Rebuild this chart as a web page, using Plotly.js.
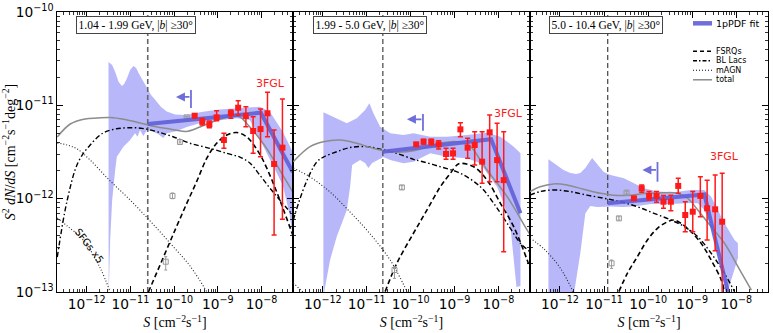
<!DOCTYPE html>
<html><head><meta charset="utf-8">
<script src="https://cdn.plot.ly/plotly-3.0.1.min.js"></script>
<style>body{margin:0;padding:0;background:#fff}</style>
</head><body><div id="chart" style="width:773px;height:333px"></div>
<script>
// ---------------- Panel 1 : 1.04 - 1.99 GeV ----------------
const p1_bandUpS = [3.15e-12,3.82e-12,4.48e-12,5.38e-12,6.37e-12,7.18e-12,8.41e-12,9.84e-12,1.17e-11,1.35e-11,1.58e-11,1.95e-11,2.37e-11,2.97e-11,4.01e-11,5.02e-11,6.78e-11,1.05e-10,1.87e-10,4.57e-10,1.12e-9,2.69e-9,5.41e-9,9.14e-9,1.55e-8,3.06e-8,5.19e-8];
const p1_bandUpY = [2.91e-11,2.70e-11,2.28e-11,1.78e-11,1.61e-11,1.69e-11,1.96e-11,2.39e-11,2.64e-11,2.51e-11,2.17e-11,1.82e-11,1.53e-11,1.29e-11,1.09e-11,9.60e-12,8.59e-12,7.98e-12,7.88e-12,8.55e-12,9.02e-12,9.29e-12,9.60e-12,9.66e-12,8.55e-12,5.21e-12,3.16e-12];
const p1_bandLoS = [3.18e-12,3.44e-12,3.82e-12,4.48e-12,4.89e-12,6.92e-12,9.84e-12,1.28e-11,1.45e-11,1.66e-11,1.98e-11,2.37e-11,3.35e-11,4.29e-11,5.66e-11,6.78e-11,1.15e-10,1.94e-10,4.57e-10,1.12e-9,2.69e-9,5.41e-9,7.69e-9,1.07e-8,1.81e-8,3.06e-8,4.43e-8,5.19e-8];
const p1_bandLoY = [9e-14,3.61e-13,9.68e-13,2.03e-12,2.82e-12,3.61e-12,4.25e-12,5.01e-12,4.61e-12,5.44e-12,4.69e-12,5.44e-12,5.21e-12,4.93e-12,4.47e-12,5.01e-12,5.31e-12,5.86e-12,6.58e-12,6.88e-12,7.26e-12,6.97e-12,5.21e-12,3.76e-12,2.30e-12,1.40e-12,6.68e-13,3.88e-13];
const p1_totalS = [2.12e-13,4.2e-13,9.2e-13,1.74e-12,3.44e-12,7.57e-12,1.66e-11,3.66e-11,8.05e-11,1.87e-10,3.90e-10,9.06e-10,2.21e-9,3.20e-9,5.41e-9,9.14e-9,1.32e-8,2.23e-8,3.79e-8,5.19e-8];
const p1_totalY = [4.58e-12,6.31e-12,7.14e-12,7.31e-12,7.41e-12,7.05e-12,6.47e-12,5.93e-12,5.57e-12,5.25e-12,5.86e-12,6.88e-12,7.69e-12,7.50e-12,5.86e-12,4.36e-12,3.44e-12,2.30e-12,1.51e-12,1.18e-12];
const p1_bllacS = [2.12e-13,3.59e-13,6.40e-13,1.20e-12,2.38e-12,4.48e-12,8.85e-12,1.85e-11,4.07e-11,9.44e-11,2.31e-10,6.61e-10,1.61e-9,3.20e-9,5.41e-9,9.14e-9,1.55e-8,2.62e-8,5.19e-8];
const p1_bllacY = [2.37e-13,9.68e-13,2.47e-12,3.76e-12,5.06e-12,5.57e-12,5.75e-12,5.67e-12,5.21e-12,4.61e-12,3.92e-12,3.46e-12,3.06e-12,2.79e-12,2.41e-12,1.79e-12,1.30e-12,9.68e-13,6.68e-13];
const p1_fsrqS = [2.58e-11,5.58e-11,1.10e-10,1.97e-10,3.33e-10,5.64e-10,9.53e-10,1.61e-9,2.73e-9,4.61e-9,6.67e-9,1.02e-8,1.55e-8,2.23e-8,2.90e-8,5.19e-8];
const p1_fsrqY = [1.0e-13,2.31e-13,4.85e-13,9.0e-13,1.55e-12,2.73e-12,3.95e-12,4.81e-12,5.12e-12,4.58e-12,3.76e-12,2.73e-12,1.79e-12,1.18e-12,8.55e-13,4.08e-13];
const p1_magnS = [2.12e-13,3.59e-13,6.07e-13,1.20e-12,3.44e-12,9.84e-12,2.82e-11,8.05e-11,2.31e-10,5.64e-10];
const p1_magnY = [3.95e-12,3.76e-12,3.40e-12,2.59e-12,1.55e-12,9.68e-13,5.77e-13,3.35e-13,1.90e-13,1.0e-13];
const p1_sfgS = [2.12e-13,3.59e-13,8.32e-13,2.03e-12,3.44e-12];
const p1_sfgY = [6.21e-13,5.09e-13,3.61e-13,1.81e-13,1.0e-13];
const p1_fitS = [2.49e-11,9.64e-9,5.19e-8];
const p1_fitY = [6.31e-12,8.34e-12,1.93e-12];
const p1_fglS = [2.95e-10,4.4e-10,6.4e-10,9.4e-10,1.38e-9,1.99e-9,2.92e-9,4.39e-9,6.43e-9,9.5e-9,1.37e-8,1.94e-8,3.01e-8];
const p1_fglY = [7.74e-12,6.68e-12,6.26e-12,7.44e-12,4.25e-12,8.22e-12,9.43e-12,7.69e-12,5.31e-12,5.57e-12,8.22e-12,2.35e-12,3.52e-12];
const p1_fglHi = [8.1e-12,7.26e-12,6.79e-12,8.76e-12,5.01e-12,8.91e-12,1.12e-11,9.66e-12,7.55e-12,9.14e-12,1.38e-11,5.44e-12,1.17e-11];
const p1_fglLo = [7.3e-12,6.15e-12,5.75e-12,6.85e-12,3.46e-12,7.26e-12,7.88e-12,5.90e-12,3.06e-12,2.82e-12,4.61e-12,4.08e-13,6.01e-13];
const p1_sqS = [1.94e-10,1.36e-10,9.18e-11,6.43e-11];
const p1_sqY = [7.44e-12,4.05e-12,1.07e-12,2.11e-13];
const p1_sqHi = [7.6e-12,4.15e-12,1.15e-12,2.39e-13];
const p1_sqLo = [7.3e-12,3.95e-12,1.0e-12,1.72e-13];
const p1_arrow = {tip:1.10e-10, bar:2.43e-10, y:1.23e-11, barHi:1.46e-11, barLo:9.36e-12};
const p1_cut = 2.49e-11;

// ---------------- Panel 2 : 1.99 - 5.0 GeV ----------------
const p2_bandUpS = [1.03e-12,1.74e-12,3.52e-12,5.94e-12,9.18e-12,1.15e-11,1.42e-11,2.02e-11,3.42e-11,6.89e-11,1.16e-10,2.80e-10,6.75e-10,1.93e-9,5.52e-9,1.11e-8,2.23e-8,3.18e-8,3.18e-8];
const p2_bandUpY = [8.41e-12,7.55e-12,6.41e-12,7.26e-12,8.91e-12,1.05e-11,8.22e-12,5.90e-12,5.01e-12,4.81e-12,5.01e-12,4.61e-12,4.61e-12,4.81e-12,5.09e-12,4.61e-12,3.61e-12,3.06e-12,1.16e-13];
const p2_bandLoS = [1.03e-12,1.46e-12,2.07e-12,3.52e-12,4.18e-12,4.65e-12,7.06e-12,9.18e-12,1.09e-11,1.33e-11,2.40e-11,3.42e-11,6.89e-11,1.16e-10,2.80e-10,6.75e-10,1.93e-9,3.88e-9,5.52e-9,9.33e-9,1.32e-8,1.88e-8,2.23e-8,2.58e-8];
const p2_bandLoY = [9e-14,2.20e-13,3.91e-13,7.57e-13,1.34e-12,2.30e-12,2.59e-12,2.41e-12,2.13e-12,2.41e-12,2.79e-12,2.59e-12,2.39e-12,2.49e-12,3.06e-12,2.82e-12,2.71e-12,2.39e-12,1.87e-12,1.34e-12,8.92e-13,5.01e-13,2.20e-13,1.13e-13];
const p2_totalS = [2.12e-13,5.10e-13,1.03e-12,2.47e-12,5.94e-12,1.42e-11,3.42e-11,8.24e-11,1.97e-10,4.74e-10,1.14e-9,2.30e-9,3.88e-9,5.52e-9,1.58e-8,4.52e-8,5.38e-8];
const p2_totalY = [2.49e-12,3.61e-12,4.07e-12,4.25e-12,3.92e-12,3.46e-12,3.18e-12,3.18e-12,3.46e-12,3.92e-12,4.07e-12,3.61e-12,2.59e-12,2.03e-12,1.05e-12,4.61e-13,4.08e-13];
const p2_bllacS = [2.12e-13,3.93e-13,7.26e-13,1.03e-12,2.07e-12,4.18e-12,1.00e-11,2.02e-11,4.86e-11,1.16e-10,1.66e-10,4.74e-10,1.36e-9,3.88e-9,7.82e-9,1.58e-8,3.18e-8,5.38e-8];
const p2_bllacY = [5.91e-13,1.40e-12,2.47e-12,2.79e-12,3.18e-12,3.53e-12,3.61e-12,3.40e-12,3.06e-12,2.64e-12,2.53e-12,2.20e-12,1.87e-12,1.34e-12,8.92e-13,5.44e-13,3.33e-13,2.68e-13];
const p2_fsrqS = [2.63e-11,4.86e-11,1.16e-10,2.36e-10,4.74e-10,8.02e-10,1.14e-9,1.36e-9,2.73e-9,5.52e-9,1.11e-8,2.23e-8,4.52e-8,5.38e-8];
const p2_fsrqY = [1.01e-13,2.03e-13,4.26e-13,7.57e-13,1.34e-12,1.87e-12,2.30e-12,2.39e-12,2.20e-12,1.58e-12,8.92e-13,5.01e-13,2.20e-13,1.72e-13];
const p2_magnS = [2.12e-13,5.10e-13,1.46e-12,4.18e-12,1.20e-11,3.42e-11,8.36e-11];
const p2_magnY = [2.13e-12,1.71e-12,1.18e-12,7.19e-13,4.18e-13,2.20e-13,1.0e-13];
const p2_sfgS = [2.12e-13,3.53e-13];
const p2_sfgY = [1.25e-13,1.0e-13];
const p2_fitS = [2.33e-11,6.81e-9,3.18e-8];
const p2_fitY = [3.18e-12,4.33e-12,6.97e-13];
const p2_fglS = [1.34e-10,1.97e-10,2.95e-10,4.34e-10,6.40e-10,9.25e-10,1.36e-9,1.99e-9,2.88e-9,4.25e-9,6.32e-9,9.33e-9,1.32e-8];
const p2_fglY = [3.82e-12,4.07e-12,4.07e-12,3.82e-12,3.01e-12,3.06e-12,5.53e-12,3.52e-12,3.76e-12,2.49e-12,5.14e-12,2.59e-12,1.58e-12];
const p2_fglHi = [3.97e-12,4.33e-12,4.33e-12,4.18e-12,3.46e-12,3.46e-12,6.52e-12,4.43e-12,5.21e-12,5.21e-12,7.88e-12,6.41e-12,5.21e-12];
const p2_fglLo = [3.67e-12,3.85e-12,3.76e-12,3.40e-12,2.64e-12,2.64e-12,4.61e-12,2.71e-12,2.30e-12,1.46e-12,1.52e-12,1.52e-12,2.70e-13];
const p2_sqS = [6.32e-11,4.29e-11];
const p2_sqY = [1.32e-12,1.72e-13];
const p2_sqHi = [1.38e-12,1.87e-13];
const p2_sqLo = [1.26e-12,1.40e-13];
const p2_arrow = {tip:8.24e-11, bar:1.91e-10, y:7.08e-12, barHi:8.07e-12, barLo:5.35e-12};
const p2_cut = 2.33e-11;

// ---------------- Panel 3 : 5.0 - 10.4 GeV ----------------
const p3_bandUpS = [5.46e-13,8.19e-13,1.20e-12,1.71e-12,2.34e-12,2.89e-12,3.76e-12,5.35e-12,6.70e-12,9.84e-12,1.40e-11,2.82e-11,4.76e-11,8.05e-11,1.63e-10,3.90e-10,9.40e-10,1.89e-9,2.69e-9,3.82e-9,5.41e-9,9.14e-9,1.09e-8,1.09e-8];
const p3_bandUpY = [2.64e-12,2.30e-12,2.03e-12,1.88e-12,1.84e-12,1.88e-12,2.13e-12,2.73e-12,2.41e-12,1.93e-12,1.79e-12,1.65e-12,1.46e-12,1.29e-12,1.19e-12,1.17e-12,1.24e-12,1.24e-12,1.05e-12,7.57e-13,5.44e-13,3.61e-13,3.33e-13,2.31e-13];
const p3_bandLoS = [5.46e-13,2.03e-12,2.89e-12,3.76e-12,4.89e-12,6.95e-12,1.40e-11,2.82e-11,5.70e-11,1.15e-10,3.28e-10,9.40e-10,1.34e-9,1.89e-9,2.69e-9,3.82e-9,4.97e-9,5.92e-9];
const p3_bandLoY = [9e-14,9e-14,2.60e-13,6.97e-13,8.34e-13,8.14e-13,8.24e-13,8.14e-13,8.34e-13,8.77e-13,8.77e-13,9.00e-13,8.92e-13,7.57e-13,5.01e-13,3.05e-13,1.72e-13,9e-14];
const p3_totalS = [2.09e-13,3.53e-13,7.11e-13,1.44e-12,3.44e-12,8.28e-12,1.99e-11,4.01e-11,9.64e-11,2.31e-10,4.67e-10,7.89e-10,1.34e-9,2.69e-9,5.41e-9,1.09e-8,2.20e-8];
const p3_totalY = [1.19e-12,1.34e-12,1.44e-12,1.40e-12,1.26e-12,1.14e-12,1.08e-12,1.09e-12,1.14e-12,1.16e-12,1.14e-12,1.01e-12,7.57e-13,5.01e-13,3.33e-13,1.87e-13,1.05e-13];
const p3_bllacS = [2.09e-13,3.53e-13,7.11e-13,1.71e-12,4.11e-12,9.84e-12,2.37e-11,5.70e-11,1.36e-10,3.28e-10,6.61e-10,1.34e-9,2.69e-9,5.41e-9,9.14e-9];
const p3_bllacY = [1.09e-12,1.19e-12,1.24e-12,1.19e-12,1.09e-12,1.01e-12,9.27e-13,8.20e-13,6.97e-13,5.91e-13,5.01e-13,3.91e-13,2.60e-13,1.58e-13,1.01e-13];
const p3_fsrqS = [2.17e-11,3.37e-11,5.70e-11,9.64e-11,1.63e-10,2.76e-10,3.90e-10,5.55e-10,9.40e-10,1.59e-9,2.69e-9,4.55e-9,5.41e-9];
const p3_fsrqY = [1.01e-13,1.58e-13,2.39e-13,3.61e-13,4.81e-13,5.66e-13,5.91e-13,5.44e-13,4.43e-13,3.33e-13,2.20e-13,1.35e-13,1.01e-13];
const p3_magnS = [2.09e-13,4.59e-13,1.01e-12,2.0e-12];
const p3_magnY = [3.79e-13,2.82e-13,1.81e-13,1.0e-13];
const p3_fitS = [1.21e-11,1.89e-9,1.0e-8];
const p3_fitY = [8.92e-13,1.11e-12,4.3e-14];
const p3_fglS = [4.76e-11,7.14e-11,1.05e-10,1.55e-10,2.23e-10,3.28e-10,4.82e-10,6.95e-10,1.03e-9,1.53e-9,2.18e-9,3.32e-9,4.79e-9];
const p3_fglY = [1.01e-12,1.29e-12,1.07e-12,1.07e-12,9.27e-13,9.27e-13,1.37e-12,6.68e-13,7.25e-13,1.07e-12,7.89e-13,7.69e-13,5.66e-13];
const p3_fglHi = [1.05e-12,1.40e-12,1.19e-12,1.19e-12,1.08e-12,1.09e-12,1.65e-12,9.27e-13,1.19e-12,1.72e-12,1.58e-12,1.79e-12,1.87e-12];
const p3_fglLo = [9.7e-13,1.17e-12,9.68e-13,9.14e-13,7.89e-13,7.43e-13,1.14e-12,4.43e-13,4.43e-13,6.41e-13,3.61e-13,2.77e-13,5e-14];
const p3_sqS = [3.24e-11,2.17e-11,1.48e-11];
const p3_sqY = [1.16e-12,6.15e-13,2.03e-13];
const p3_sqHi = [1.2e-12,6.4e-13,2.20e-13];
const p3_sqLo = [1.12e-12,5.9e-13,1.79e-13];
const p3_arrow = {tip:7.41e-11, bar:1.63e-10, y:2.03e-12, barHi:2.47e-12, barLo:1.52e-12};
const p3_cut = 1.21e-11;

const panelLabels = ['1.04 - 1.99 GeV, |<i>b</i>| ≥30°', '1.99 - 5.0 GeV, |<i>b</i>| ≥30°', '5.0 - 10.4 GeV, |<i>b</i>| ≥30°'];
const legendLabels = ['1pPDF fit','FSRQs','BL Lacs','mAGN','total'];

// ---------------- styles ----------------
const BAND = 'rgba(112,112,245,0.50)';
const FIT = 'rgba(95,95,215,0.9)';
const RED = '#ff1a1a';
const GREY = '#8c8c8c';

const traces = [];
const annotations = [];
function addPanel(ax, d) {
  const xa = ax === 1 ? 'x' : 'x' + ax, ya = ax === 1 ? 'y' : 'y' + ax;
  const base = {xaxis: xa, yaxis: ya, hoverinfo: 'skip', showlegend: false};
  traces.push(Object.assign({}, base, {x: d.upS.concat(d.loS.slice().reverse()), y: d.upY.concat(d.loY.slice().reverse()),
    mode: 'lines', fill: 'toself', fillcolor: BAND, line: {width: 0}}));
  traces.push(Object.assign({}, base, {x: [d.cut, d.cut], y: [1e-13, 1e-10], mode: 'lines', line: {color: ax === 1 ? '#666' : '#444', width: ax === 1 ? 1.6 : 1.2, dash: '5px,3px'}}));
  if (d.sfgS) traces.push(Object.assign({}, base, {x: d.sfgS, y: d.sfgY, mode: 'lines', line: {color: '#222', width: 1.1, dash: '1px,2px', shape: 'spline'}}));
  traces.push(Object.assign({}, base, {x: d.magnS, y: d.magnY, mode: 'lines', line: {color: '#222', width: 1.1, dash: '1px,2px', shape: 'spline'}}));
  traces.push(Object.assign({}, base, {x: d.bllacS, y: d.bllacY, mode: 'lines', line: {color: 'black', width: 1.4, dash: '5px,2.5px,1.5px,2.5px', shape: 'spline'}}));
  traces.push(Object.assign({}, base, {x: d.fsrqS, y: d.fsrqY, mode: 'lines', line: {color: 'black', width: 1.6, dash: '5px,3px', shape: 'spline'}}));
  traces.push(Object.assign({}, base, {x: d.totalS, y: d.totalY, mode: 'lines', line: {color: GREY, width: 1.5, shape: 'spline'}}));
  traces.push(Object.assign({}, base, {x: d.sqS, y: d.sqY, mode: 'markers',
    marker: {symbol: 'square-open', size: 5, color: '#999', line: {width: 1}},
    error_y: {type: 'data', symmetric: false, array: d.sqHi.map((h, i) => h - d.sqY[i]), arrayminus: d.sqLo.map((l, i) => d.sqY[i] - l), color: '#999', thickness: 1, width: 1.5}}));
  traces.push(Object.assign({}, base, {x: d.fitS, y: d.fitY, mode: 'lines', line: {color: FIT, width: 4}}));
  traces.push(Object.assign({}, base, {x: d.fglS, y: d.fglY, mode: 'markers',
    marker: {symbol: 'square', size: 6, color: RED},
    error_y: {type: 'data', symmetric: false, array: d.fglHi.map((h, i) => h - d.fglY[i]), arrayminus: d.fglLo.map((l, i) => d.fglY[i] - l), color: RED, thickness: 1.5, width: 2.5}}));
  traces.push(Object.assign({}, base, {x: [d.arrow.bar, d.arrow.bar], y: [d.arrow.barLo, d.arrow.barHi], mode: 'lines', line: {color: FIT, width: 1.8}}));
  annotations.push({xref: xa, yref: ya, axref: xa, ayref: ya, x: Math.log10(d.arrow.tip), y: Math.log10(d.arrow.y),
    ax: Math.log10(d.arrow.bar), ay: Math.log10(d.arrow.y), showarrow: true, arrowhead: 2, arrowsize: 1, arrowwidth: 1.8, arrowcolor: FIT, text: ''});
}
addPanel(1, {upS: p1_bandUpS, upY: p1_bandUpY, loS: p1_bandLoS, loY: p1_bandLoY, cut: p1_cut, sfgS: p1_sfgS, sfgY: p1_sfgY,
  magnS: p1_magnS, magnY: p1_magnY, bllacS: p1_bllacS, bllacY: p1_bllacY, fsrqS: p1_fsrqS, fsrqY: p1_fsrqY, totalS: p1_totalS, totalY: p1_totalY,
  sqS: p1_sqS, sqY: p1_sqY, sqHi: p1_sqHi, sqLo: p1_sqLo, fitS: p1_fitS, fitY: p1_fitY, fglS: p1_fglS, fglY: p1_fglY, fglHi: p1_fglHi, fglLo: p1_fglLo, arrow: p1_arrow});
addPanel(2, {upS: p2_bandUpS, upY: p2_bandUpY, loS: p2_bandLoS, loY: p2_bandLoY, cut: p2_cut, sfgS: p2_sfgS, sfgY: p2_sfgY,
  magnS: p2_magnS, magnY: p2_magnY, bllacS: p2_bllacS, bllacY: p2_bllacY, fsrqS: p2_fsrqS, fsrqY: p2_fsrqY, totalS: p2_totalS, totalY: p2_totalY,
  sqS: p2_sqS, sqY: p2_sqY, sqHi: p2_sqHi, sqLo: p2_sqLo, fitS: p2_fitS, fitY: p2_fitY, fglS: p2_fglS, fglY: p2_fglY, fglHi: p2_fglHi, fglLo: p2_fglLo, arrow: p2_arrow});
addPanel(3, {upS: p3_bandUpS, upY: p3_bandUpY, loS: p3_bandLoS, loY: p3_bandLoY, cut: p3_cut,
  magnS: p3_magnS, magnY: p3_magnY, bllacS: p3_bllacS, bllacY: p3_bllacY, fsrqS: p3_fsrqS, fsrqY: p3_fsrqY, totalS: p3_totalS, totalY: p3_totalY,
  sqS: p3_sqS, sqY: p3_sqY, sqHi: p3_sqHi, sqLo: p3_sqLo, fitS: p3_fitS, fitY: p3_fitY, fglS: p3_fglS, fglY: p3_fglY, fglHi: p3_fglHi, fglLo: p3_fglLo, arrow: p3_arrow});

// text annotations
const SERIF = 'Liberation Serif, DejaVu Serif, serif';
const SANS = 'DejaVu Sans, sans-serif';
const boxX = [0.1111, 0.4402, 0.7726];
panelLabels.forEach((t, i) => annotations.push({xref: 'paper', yref: 'paper', x: boxX[i], y: 0.955, xanchor: 'center', yanchor: 'middle', text: t, showarrow: false,
  font: {family: SERIF, size: 11.5, color: 'black'}, bordercolor: '#444', borderwidth: 1, borderpad: 1.5, bgcolor: 'white'}));
const fglX = [0.3004, 0.6347, 0.9395], fglYp = [0.7454, 0.6382, 0.4832];
fglX.forEach((x, i) => annotations.push({xref: 'paper', yref: 'paper', x: x, y: fglYp[i], xanchor: 'center', yanchor: 'middle', text: '3FGL', showarrow: false, font: {family: SANS, size: 11, color: RED}}));
annotations.push({xref: 'paper', yref: 'paper', x: 0.0464, y: 0.164, xanchor: 'center', yanchor: 'middle', text: 'SFGs x5', textangle: 53, showarrow: false, font: {family: SANS, size: 10, color: 'black'}});

// legend (drawn)
const legY = [0.9596, 0.8596, 0.8257, 0.7918, 0.7579];
const legStyle = [{color: FIT, width: 4.5}, {color: 'black', width: 1.5, dash: '4px,3px'}, {color: 'black', width: 1.5, dash: '4px,2px,1.5px,2px'}, {color: 'black', width: 1.1, dash: '1px,2px'}, {color: GREY, width: 1.5}];
const shapes = legY.map((y, i) => ({type: 'line', xref: 'paper', yref: 'paper', x0: 0.8945, x1: 0.9213, y0: y, y1: y, line: legStyle[i]}));
legendLabels.forEach((t, i) => annotations.push({xref: 'paper', yref: 'paper', x: 0.9255, y: legY[i], xanchor: 'left', yanchor: 'middle', borderpad: 0, text: t, showarrow: false, font: {family: SANS, size: i === 0 ? 9.5 : 8, color: 'black'}}));

const xTitle = {text: '<i>S</i> [cm<sup>−2</sup>s<sup>−1</sup>]', font: {family: SERIF, size: 14, color: 'black'}, standoff: 6};
function xAx(dom, anchor) {
  return {type: 'log', range: [-12.68, -7.28], domain: dom, anchor: anchor, dtick: 1, exponentformat: 'power',
    showline: true, linecolor: 'black', linewidth: 1.3, mirror: 'allticks', ticks: 'inside', ticklen: 6, tickwidth: 1, tickcolor: 'black',
    minor: {ticks: 'inside', ticklen: 3, tickwidth: 0.8, tickcolor: 'black', dtick: 'D1', showgrid: false},
    showgrid: false, zeroline: false, tickfont: {family: SANS, size: 11, color: 'black'}, title: xTitle};
}
function yAx(anchor, labels) {
  const a = {type: 'log', range: [-13, -10], domain: [0, 1], anchor: anchor, dtick: 1, exponentformat: 'power',
    showline: true, linecolor: 'black', linewidth: 1.3, mirror: 'allticks', ticks: 'inside', ticklen: 6, tickwidth: 1, tickcolor: 'black',
    minor: {ticks: 'inside', ticklen: 3, tickwidth: 0.8, tickcolor: 'black', dtick: 'D1', showgrid: false},
    showgrid: false, zeroline: false, showticklabels: labels, tickfont: {family: SANS, size: 11, color: 'black'}};
  if (labels) a.title = {text: '<i>S</i><sup>2</sup> <i>dN</i>/<i>dS</i> [cm<sup>−2</sup>s<sup>−1</sup>deg<sup>−2</sup>]', font: {family: SERIF, size: 14, color: 'black'}, standoff: 4};
  else a.matches = 'y';
  return a;
}
const layout = {
  width: 773, height: 333, margin: {l: 57, r: 5, t: 12, b: 41}, paper_bgcolor: 'white', plot_bgcolor: 'white', showlegend: false,
  xaxis: xAx([0, 0.3319], 'y'), xaxis2: xAx([0.3319, 0.6653], 'y2'), xaxis3: xAx([0.6653, 1], 'y3'),
  yaxis: yAx('x', true), yaxis2: yAx('x2', false), yaxis3: yAx('x3', false),
  annotations: annotations, shapes: shapes
};
Plotly.newPlot('chart', traces, layout, {displayModeBar: false, staticPlot: true});
</script></body></html>
